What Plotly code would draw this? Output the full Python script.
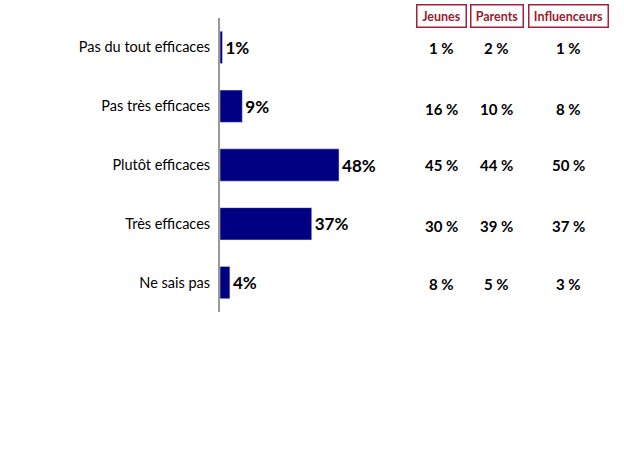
import plotly.graph_objects as go

# données
categories = ["Pas du tout efficaces", "Pas très efficaces", "Plutôt efficaces",
              "Très efficaces", "Ne sais pas"]
total = [1, 9, 48, 37, 4]

groupes = ["Jeunes", "Parents", "Influenceurs"]
jeunes = [1, 16, 45, 30, 8]
parents = [2, 10, 44, 39, 5]
influenceurs = [1, 8, 50, 37, 3]

fig = go.Figure()

fig.add_trace(go.Bar(
    y=categories,
    x=total,
    orientation="h",
    marker=dict(color="#000080"),
    text=[f"{v}%" for v in total],
    textposition="outside",
    textfont=dict(family="Lato", size=17, color="black", weight="bold"),
    cliponaxis=False,
    showlegend=False
))

# colonnes du tableau à droite
col_x = [441, 497, 568]
box_w = [52, 55, 82]
row_shift = [-1, -3, 0, -2, -1]
for gx, w, nom, vals in zip(col_x, box_w, groupes, [jeunes, parents, influenceurs]):
    fig.add_annotation(
        x=gx / 624, y=1 - 16.5 / 468, xref="paper", yref="paper",
        xanchor="center", yanchor="middle",
        text=f"<b>{nom}</b>", showarrow=False, width=w - 4, height=21,
        font=dict(family="Lato", size=12.5, color="#9B1B30"),
        bordercolor="#A3213A", borderwidth=1.5, borderpad=0, bgcolor="white"
    )
    for cat, v, dy in zip(categories, vals, row_shift):
        fig.add_annotation(
            x=gx / 624, y=cat, xref="paper", yref="y",
            xanchor="center", yanchor="middle", yshift=dy,
            text=f"<b>{v} %</b>", showarrow=False,
            font=dict(family="Lato", size=15, color="black")
        )

fig.update_layout(
    width=624,
    height=468,
    margin=dict(l=0, r=0, t=0, b=0, autoexpand=False),
    plot_bgcolor="white",
    paper_bgcolor="white",
    bargap=0.45,
    xaxis=dict(domain=[220 / 624, 468 / 624], range=[0, 100], visible=False),
    yaxis=dict(
        domain=[1 - 312 / 468, 1 - 18 / 468],
        autorange="reversed", automargin=False,
        showline=True, linecolor="#999999", linewidth=2,
        showgrid=False, ticks="", ticklabelstandoff=5,
        tickfont=dict(family="Lato", size=14.5, color="black")
    )
)

# pas de marge autour de la page
fig.write_html("out.html", config={"displayModeBar": False},
               post_script="document.body.style.margin='0';")
